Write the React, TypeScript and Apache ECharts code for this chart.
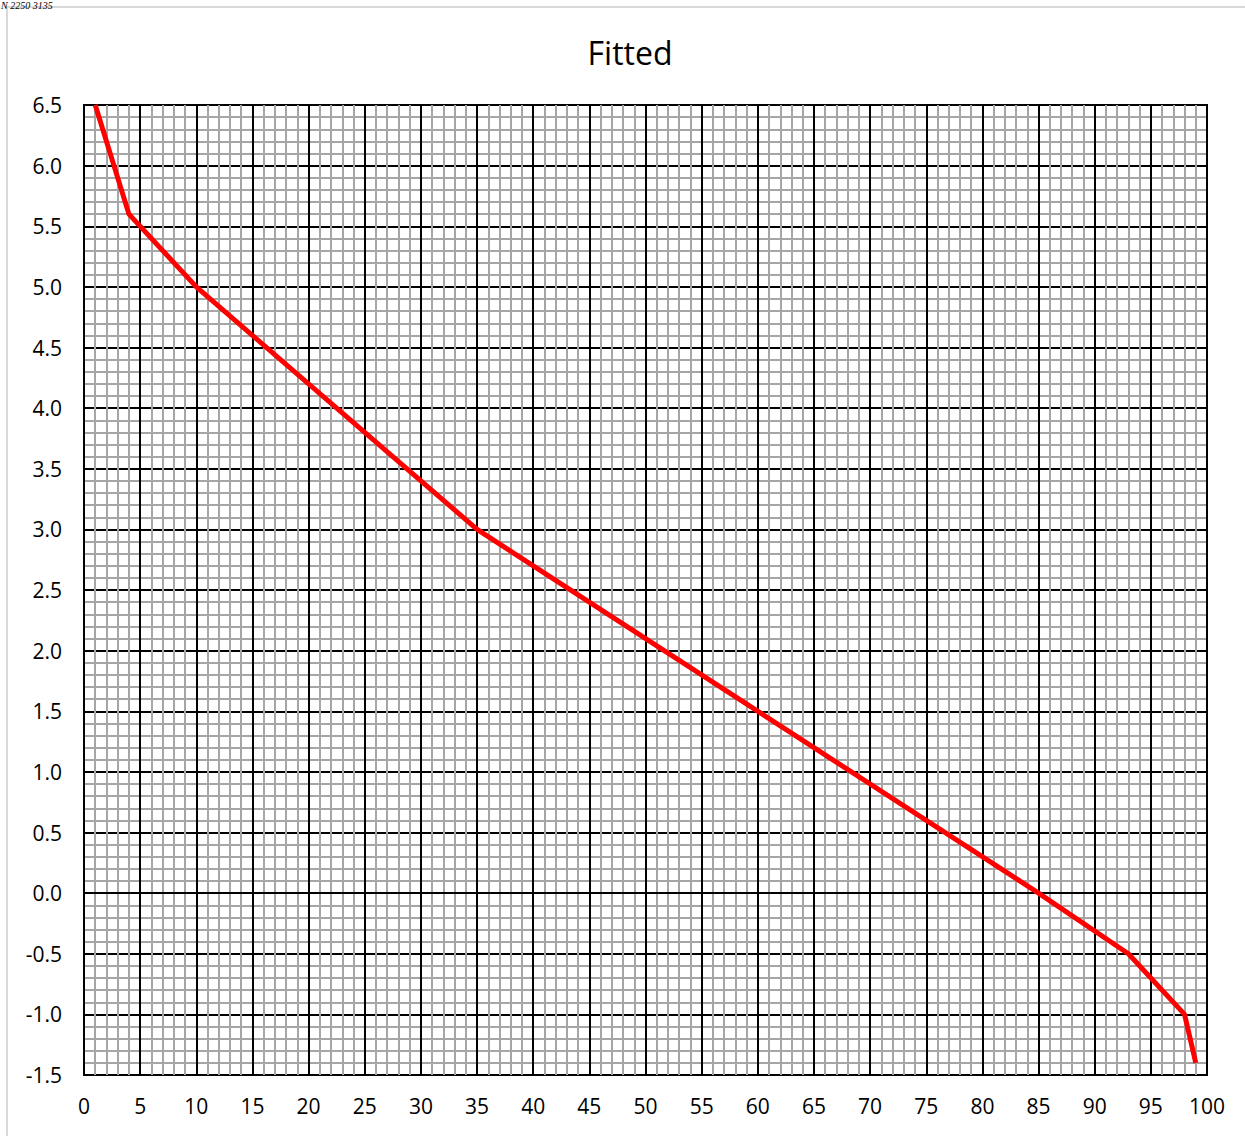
import React, { useEffect, useRef } from "react";
import * as echarts from "echarts";

const xValues = [1, 4, 10, 35, 85, 93, 98, 99];
const yValues = [6.5, 5.6, 5.0, 3.0, 0.0, -0.5, -1.0, -1.4];
const chartTitle = "Fitted";
const cornerNote = "N 2250 3135";

export default function App() {
  const ref = useRef<HTMLDivElement>(null);
  useEffect(() => {
    if (!ref.current) return;
    const chart = echarts.init(ref.current, null, { renderer: "svg" });
    const font = "'Open Sans', 'Noto Sans', sans-serif";
    chart.setOption({
      animation: false,
      backgroundColor: "#ffffff",
      graphic: [
        {
          type: "rect",
          shape: { x: 7, y: 7, width: 1260, height: 1160 },
          style: { fill: "none", stroke: "#d9d9d9", lineWidth: 2 },
          silent: true,
        },
        {
          type: "text",
          x: 630,
          y: 52,
          style: {
            text: chartTitle,
            font: "32px 'Open Sans', 'Noto Sans', sans-serif",
            fill: "#000",
            textAlign: "center",
            textVerticalAlign: "middle",
          },
          silent: true,
        },
        {
          type: "text",
          x: 1,
          y: 0,
          style: {
            text: cornerNote,
            font: "italic 10px 'Liberation Serif', serif",
            fill: "#000",
            textVerticalAlign: "top",
          },
          silent: true,
        },
      ],
      grid: {
        left: 84,
        top: 105,
        right: 38,
        bottom: 61,
        show: true,
        borderColor: "#000",
        borderWidth: 2,
        containLabel: false,
      },
      xAxis: {
        type: "value",
        min: 0,
        max: 100,
        interval: 5,
        axisLine: { show: true, lineStyle: { color: "#000", width: 2 } },
        axisTick: { show: false },
        axisLabel: { fontFamily: font, fontSize: 21, color: "#000", margin: 20 },
        splitLine: { show: true, lineStyle: { color: "#000", width: 2 } },
        minorTick: { show: false, splitNumber: 5 },
        minorSplitLine: { show: true, lineStyle: { color: "#a6a6a6", width: 2 } },
      },
      yAxis: {
        type: "value",
        min: -1.5,
        max: 6.5,
        interval: 0.5,
        axisLine: { show: true, lineStyle: { color: "#000", width: 2 } },
        axisTick: { show: false },
        axisLabel: {
          fontFamily: font,
          fontSize: 21,
          color: "#000",
          margin: 22,
          formatter: (v: number) => v.toFixed(1),
        },
        splitLine: { show: true, lineStyle: { color: "#000", width: 2 } },
        minorTick: { show: false, splitNumber: 5 },
        minorSplitLine: { show: true, lineStyle: { color: "#a6a6a6", width: 2 } },
      },
      series: [
        {
          type: "line",
          data: xValues.map((x, i) => [x, yValues[i]]),
          showSymbol: false,
          symbol: "none",
          lineStyle: { color: "#ff0000", width: 5 },
          z: 10,
        },
      ],
    });
    return () => chart.dispose();
  }, []);
  return (
    <div
      ref={ref}
      style={{ position: "fixed", left: 0, top: 0, width: 1245, height: 1136 }}
    />
  );
}
